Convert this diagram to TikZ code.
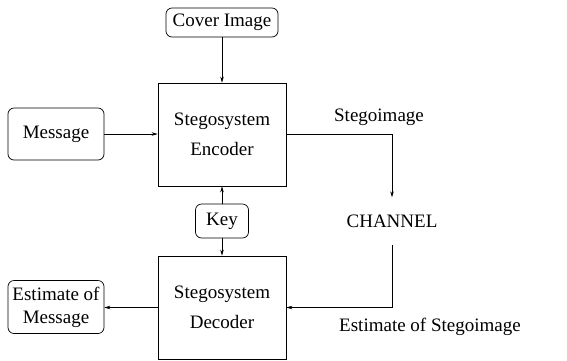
\documentclass[tikz,border=0pt]{standalone}
\usepackage{fontspec}
\setmainfont{Liberation Serif}
\usetikzlibrary{arrows.meta}
\begin{document}
\begin{tikzpicture}[x=1pt, y=-1pt]
    % Define styles
    \tikzset{
        blockbox/.style={draw, line width=0.7pt, minimum width=128pt, minimum height=103pt, align=center, font=\fontsize{19}{30}\selectfont},
        roundbox/.style={draw, line width=0.7pt, rounded corners=6pt, inner sep=0pt, align=center, font=\fontsize{19}{23}\selectfont},
        plainlabel/.style={align=center, font=\fontsize{19}{23}\selectfont},
        thinarrow/.style={-{Stealth[length=6pt, width=3.5pt]}, line width=0.6pt}
    }
    \useasboundingbox (0,0) rectangle (567,360);

    % Sources
    \node[roundbox, minimum width=112pt, minimum height=29pt] (cover) at (222,22.5) {Cover Image};
    \node[roundbox, minimum width=96pt, minimum height=52pt] (msg) at (56,134) {Message};

    % Stegosystem blocks
    \node[blockbox] (enc) at (222,134.5) {Stegosystem\\Encoder};
    \node[blockbox] (dec) at (222,307.5) {Stegosystem\\Decoder};

    % Key and estimate
    \node[roundbox, minimum width=53pt, minimum height=34pt] (key) at (222,221) {Key};
    \node[roundbox, minimum width=96pt, minimum height=53pt] (est) at (56,307) {Estimate of\\Message};

    % Channel
    \node[plainlabel, minimum height=47pt, inner sep=0pt] (chan) at (392,221) {CHANNEL};
    \node[plainlabel] (stego) at (379,117) {Stegoimage};
    \node[plainlabel] (estego) at (430,327) {Estimate of Stegoimage};

    % Arrows
    \draw[thinarrow] (cover) -- (enc);
    \draw[thinarrow] (msg) -- (msg -| enc.west);
    \draw[thinarrow] (key) -- (enc);
    \draw[thinarrow] (key) -- (dec);
    \draw[thinarrow] (enc.east) -| (chan.north);
    \draw[thinarrow] (chan.south) |- (dec.east);
    \draw[thinarrow] (dec.west) -- (dec.west -| est.east);
\end{tikzpicture}
\end{document}
